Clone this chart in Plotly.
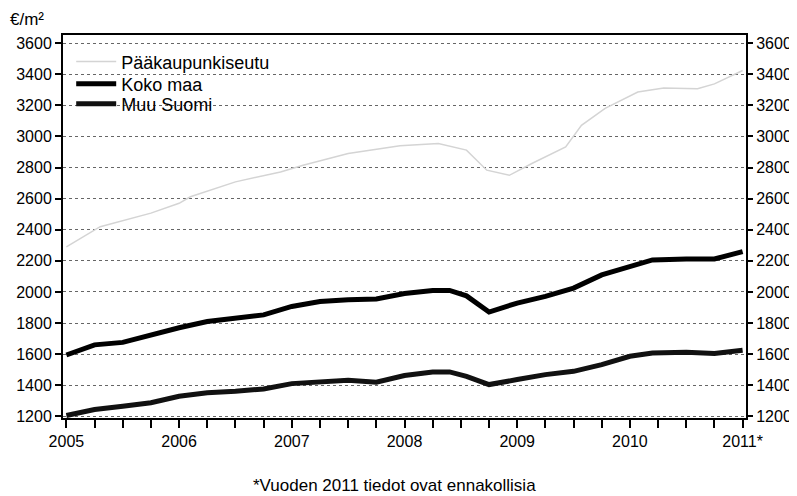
import plotly.graph_objects as go

# Decimal-year positions of readings
x_pks = [2005.0, 2005.3, 2005.75, 2006.0, 2006.1, 2006.5, 2006.9, 2007.1, 2007.5, 2007.96,
         2008.3, 2008.55, 2008.73, 2008.93, 2009.13, 2009.43, 2009.57, 2009.78, 2010.07,
         2010.3, 2010.6, 2010.75, 2011.0]
pks = [2290, 2420, 2507, 2570, 2612, 2708, 2772, 2815, 2890, 2940,
       2954, 2912, 2783, 2750, 2826, 2932, 3071, 3180, 3285,
       3312, 3306, 3338, 3424]

x_main = [2005.0, 2005.25, 2005.5, 2005.75, 2006.0, 2006.25, 2006.5, 2006.75, 2007.0,
          2007.25, 2007.5, 2007.75, 2008.0, 2008.25, 2008.4, 2008.55, 2008.75, 2009.0,
          2009.25, 2009.5, 2009.75, 2010.0, 2010.2, 2010.5, 2010.75, 2011.0]
koko_maa = [1595, 1660, 1676, 1725, 1770, 1810, 1833, 1853, 1907,
            1939, 1950, 1955, 1990, 2010, 2010, 1975, 1871, 1929,
            1972, 2025, 2110, 2163, 2206, 2212, 2212, 2260]
muu_suomi = [1206, 1245, 1266, 1288, 1330, 1352, 1362, 1377, 1411,
             1420, 1433, 1420, 1463, 1486, 1486, 1458, 1405, 1437,
             1469, 1490, 1533, 1587, 1608, 1613, 1604, 1625]

year_ticks = [2005, 2006, 2007, 2008, 2009, 2010, 2011]
year_labels = ["2005", "2006", "2007", "2008", "2009", "2010", "2011*"]
y_ticks = list(range(1200, 3601, 200))

FONT = "Liberation Sans, Arial, sans-serif"

fig = go.Figure()
fig.add_trace(go.Scatter(x=x_pks, y=pks, mode="lines", name="Pääkaupunkiseutu",
                         legend="legend", line=dict(color="#d4d4d4", width=1.5)))
fig.add_trace(go.Scatter(x=x_main, y=koko_maa, mode="lines", name="Koko maa",
                         legend="legend2", line=dict(color="#000000", width=5)))
fig.add_trace(go.Scatter(x=x_main, y=muu_suomi, mode="lines", name="Muu Suomi",
                         legend="legend3", line=dict(color="#111111", width=5)))
# invisible trace to activate right axis
fig.add_trace(go.Scatter(x=[2005], y=[1200], yaxis="y2", mode="markers",
                         marker=dict(opacity=0), showlegend=False, hoverinfo="skip"))

leg_common = dict(x=0.012, xanchor="left", yanchor="middle", bgcolor="rgba(0,0,0,0)",
                  font=dict(size=18, family=FONT), itemwidth=40)

fig.update_layout(
    width=789, height=488,
    margin=dict(l=55, r=51, t=27, b=78, autoexpand=False),
    paper_bgcolor="white", plot_bgcolor="white",
    font=dict(family=FONT, size=16, color="black"),
    showlegend=True,
    legend=dict(y=0.930, **leg_common),
    legend2=dict(y=0.872, **leg_common),
    legend3=dict(y=0.820, **leg_common),
    xaxis=dict(range=[2004.97, 2011.03], tickvals=year_ticks, ticktext=year_labels,
               ticks="outside", ticklen=8, tickwidth=2, tickcolor="black",
               showline=True, linecolor="black", linewidth=2, mirror=True,
               showgrid=False, zeroline=False, automargin=False,
               minor=dict(dtick=0.25, tick0=2005, ticks="outside", ticklen=8,
                          tickwidth=2, tickcolor="black", showgrid=False),
               tickfont=dict(size=16)),
    yaxis=dict(range=[1190, 3652], tickvals=y_ticks,
               ticks="outside", ticklen=6, tickwidth=2, tickcolor="black",
               showline=True, linecolor="black", linewidth=2, mirror=True,
               showgrid=True, gridcolor="#666666", gridwidth=1, griddash="dot",
               zeroline=False, automargin=False, tickfont=dict(size=16)),
    yaxis2=dict(range=[1190, 3652], tickvals=y_ticks, overlaying="y", side="right",
                ticks="outside", ticklen=6, tickwidth=2, tickcolor="black",
                showline=False, showgrid=False, zeroline=False, automargin=False,
                tickfont=dict(size=16)),
)

# white legend background hiding the gridlines behind the legend
fig.add_shape(type="rect", xref="paper", yref="paper", x0=0.003, x1=0.332,
              y0=0.783, y1=0.961, fillcolor="white", line=dict(width=0), layer="between")

fig.add_annotation(text="€/m²", xref="paper", yref="paper", x=-0.08, y=1.0,
                   yshift=4, xanchor="left", yanchor="bottom", showarrow=False,
                   font=dict(size=17, family=FONT))
fig.add_annotation(text="*Vuoden 2011 tiedot ovat ennakollisia", xref="paper", yref="paper",
                   x=0.485, y=-0.177, xanchor="center", yanchor="middle", showarrow=False,
                   font=dict(size=17, family=FONT))

fig.write_html("out.html")
